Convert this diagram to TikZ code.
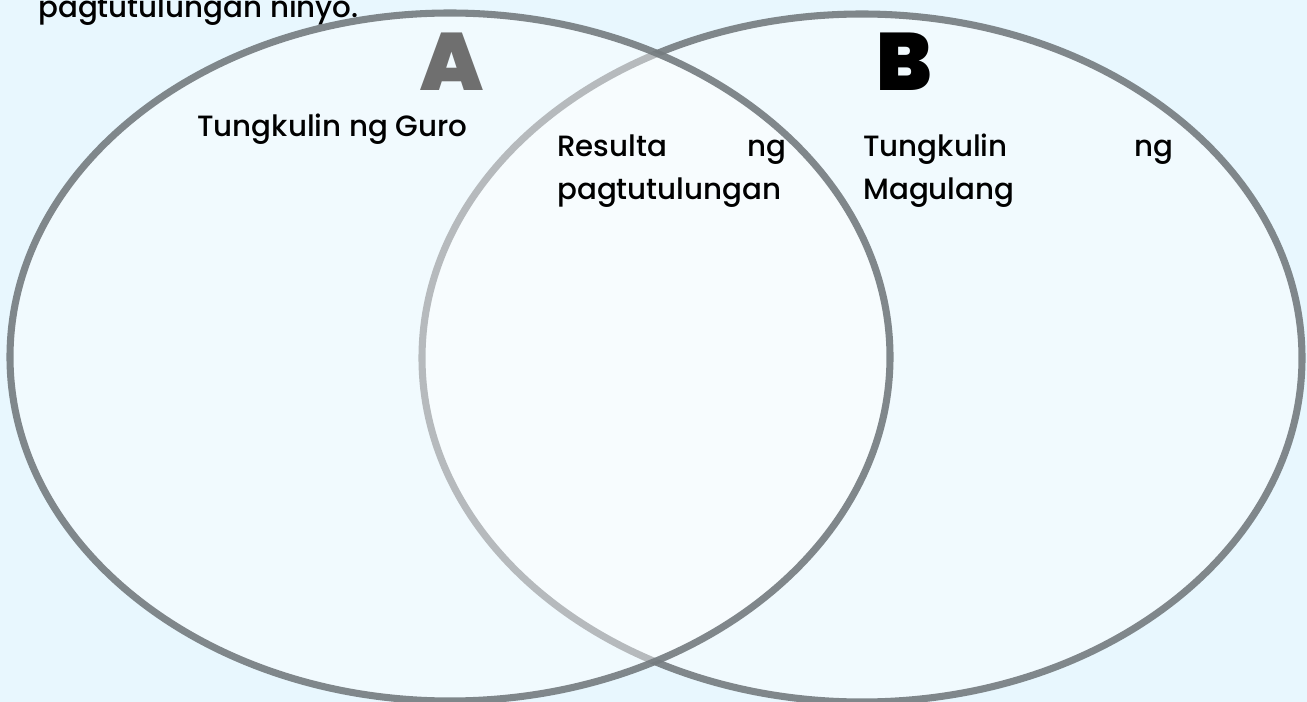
\documentclass[tikz,border=0pt]{standalone}
\usepackage{fontspec}
\setmainfont{Poppins Medium}
\newfontfamily\heavyfont{Poppins Black}
\usetikzlibrary{positioning}

\definecolor{bgblue}{HTML}{E8F7FE}
\definecolor{ringgray}{HTML}{747B7F}
\definecolor{lettergray}{HTML}{6F6F6F}

\tikzset{
	ring/.style = {draw = ringgray, draw opacity = 0.9, line width = 5.3pt, fill = white, fill opacity = 0.43},
	big letter/.style = {font = \heavyfont\fontsize{61}{61}\selectfont, inner sep = 0pt, anchor = base},
	venn text/.style = {font = \fontsize{22}{32}\selectfont, inner sep = 0pt, anchor = base west, align = justify},
}

\begin{document}
\begin{tikzpicture}[x = 0.75pt, y = -0.75pt]
			\def\W{1307};
			\def\Ht{702};
			\def\R{440};
			\def\r{344};
			
			\coordinate (left centre) at (450,357);
			\coordinate (right centre) at (862,358);
			
			\useasboundingbox (0,0) rectangle (\W,\Ht);
			\clip (0,0) rectangle (\W,\Ht);
			\fill[bgblue] (0,0) rectangle (\W,\Ht);
			
			\node[venn text] (task text) at (38,18) {pagtutulungan ninyo.};
			
			\draw[ring] (right centre) circle [x radius = \R, y radius = \r];
			\draw[ring] (left centre) circle [x radius = \R, y radius = \r];
			
			\node[big letter, text = lettergray] (set A) at (452,91) {A};
			\node[big letter, text = black] (set B) at (904,91) {B};
			
			\node[venn text] (guro) at (197,137) {Tungkulin ng Guro};
			\node[venn text, text width = 229*0.75pt] (resulta) at (557,157) {Resulta\hfill ng\\pagtutulungan};
			\node[venn text, text width = 310*0.75pt] (magulang) at (863,157) {Tungkulin\hfill ng\\Magulang};
		\end{tikzpicture}
\end{document}
